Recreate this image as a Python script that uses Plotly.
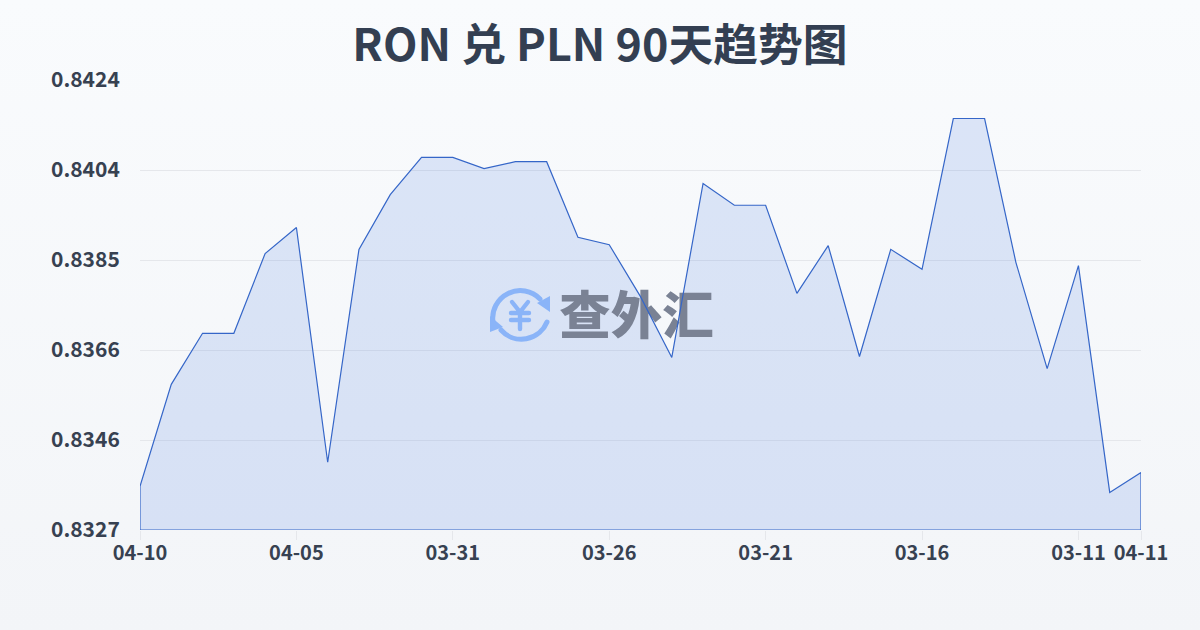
import base64
import plotly.graph_objects as go

dates = ["04-10","04-09","04-08","04-07","04-06","04-05","04-04","04-03","04-02","04-01",
         "03-31","03-30","03-29","03-28","03-27","03-26","03-25","03-24","03-23","03-22",
         "03-21","03-20","03-19","03-18","03-17","03-16","03-15","03-14","03-13","03-12",
         "03-11","03-10","04-11"]
rates = [0.83364,0.83584,0.83694,0.83694,0.83866,0.83922,0.83416,0.83875,0.83993,0.84073,
         0.84073,0.84049,0.84064,0.84064,0.83901,0.83885,0.83773,0.83642,0.84017,0.83970,
         0.83970,0.83780,0.83883,0.83644,0.83875,0.83832,0.84157,0.84157,0.83847,0.83618,
         0.83840,0.83351,0.83394]
shown_dates = ["04-10","04-05","03-31","03-26","03-21","03-16","03-11","04-11"]
y_tickvals = [0.8327,0.83464,0.83658,0.83852,0.84046,0.8424]
y_ticktext = ["0.8327","0.8346","0.8366","0.8385","0.8404","0.8424"]
title_text = "RON 兑 PLN 90天趋势图"
watermark = "查外汇"

Y_MIN, Y_MAX = y_tickvals[0], y_tickvals[-1]
PL, PT, PW, PH = 140, 80, 1001, 450
idx = list(range(len(dates)))

def svg_uri(s):
    return "data:image/svg+xml;base64," + base64.b64encode(s.encode()).decode()

bg_svg = ('<svg xmlns="http://www.w3.org/2000/svg" width="1200" height="630" preserveAspectRatio="none">'
          '<defs><linearGradient id="g" x1="0" y1="0" x2="0" y2="1">'
          '<stop offset="0" stop-color="#f9fbfd"/><stop offset="1" stop-color="#f3f5f8"/>'
          '</linearGradient></defs><rect width="1200" height="630" fill="url(#g)"/></svg>')
logo_svg = ('<svg xmlns="http://www.w3.org/2000/svg" width="260" height="90" viewBox="0 0 260 90">'
            '<g fill="none" stroke="#8ab4f8" stroke-width="5" stroke-linecap="round">'
            '<path d="M23 52 A27.5 27.5 0 0 1 70 29"/>'
            '<path d="M77 52 A27.5 27.5 0 0 1 31 60"/>'
            '<path d="M42 32 L50 42 L58 32 M41 43 H59 M41 50 H59 M50 42 V59" stroke-width="4.4"/>'
            '</g><path d="M80 26 L80 42 L67 33 Z M20 46 L20 62 L33 57 Z" fill="#8ab4f8"/></svg>')

fig = go.Figure()
outline_x = idx + [idx[-1], idx[0], idx[0]]
outline_y = rates + [Y_MIN, Y_MIN, rates[0]]
fig.add_trace(go.Scatter(x=outline_x, y=outline_y, mode="none", fill="toself",
                         fillcolor="rgba(70,120,225,0.16)", hoverinfo="skip", showlegend=False))
fig.add_trace(go.Scatter(x=[15.87], y=[0.8372], mode="text", text=[watermark],
                         textfont=dict(family="Noto Sans CJK SC", size=51.5, color="#7a8294", weight=900),
                         textposition="middle center", hoverinfo="skip", showlegend=False))
fig.add_trace(go.Scatter(x=outline_x, y=outline_y, mode="lines",
                         line=dict(color="#3566c8", width=1.2), cliponaxis=False,
                         hoverinfo="skip", showlegend=False))

tick_font = dict(family="Noto Sans CJK SC", color="#374151", weight=700)
fig.update_layout(
    width=1200, height=630,
    margin=dict(l=PL, r=1200-PL-PW, t=PT, b=630-PT-PH, autoexpand=False),
    paper_bgcolor="rgba(0,0,0,0)", plot_bgcolor="rgba(0,0,0,0)",
    title=dict(text=title_text, x=0.5, xanchor="center", y=1-45/630, yanchor="middle",
               font=dict(family="Noto Sans CJK SC", size=44.8, color="#333f52", weight=700)),
    xaxis=dict(range=[0, len(dates)-1], tickmode="array",
               tickvals=[dates.index(d) for d in shown_dates], ticktext=shown_dates,
               showgrid=False, zeroline=False, showline=False,
               ticks="outside", ticklen=9, tickcolor="#e5e7eb", tickwidth=1,
               ticklabelstandoff=-4,
               tickangle=0, tickfont=dict(size=20, **tick_font)),
    yaxis=dict(range=[Y_MIN, Y_MAX], tickmode="array", tickvals=y_tickvals, ticktext=y_ticktext,
               showgrid=True, gridcolor="#e5e7eb", gridwidth=1, zeroline=False, showline=False,
               ticks="outside", ticklen=15, tickcolor="rgba(0,0,0,0)",
               tickfont=dict(size=21, **tick_font)),
    images=[
        dict(source=svg_uri(bg_svg), xref="paper", yref="paper", layer="below",
             x=-PL/PW, y=(PT+PH)/PH, sizex=1200/PW, sizey=630/PH,
             sizing="stretch", xanchor="left", yanchor="top"),
        dict(source=svg_uri(logo_svg), xref="paper", yref="paper", layer="above",
             x=(470-PL)/PW, y=(PT+PH-270)/PH, sizex=260/PW, sizey=90/PH,
             sizing="stretch", xanchor="left", yanchor="top"),
    ],
)
fig.write_html("out.html", config={"displayModeBar": False},
               post_script="document.body.style.margin='0';document.body.style.overflow='hidden';")
